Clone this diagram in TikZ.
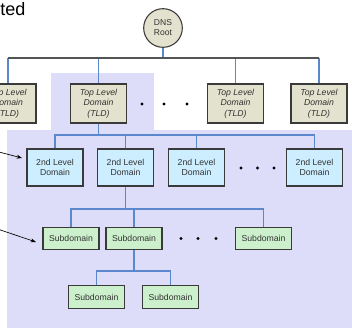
\documentclass[tikz,border=0pt]{standalone}
\usepackage{fontspec}
\usetikzlibrary{arrows.meta}
\setmainfont{Liberation Sans}
\definecolor{regionc}{HTML}{DDDDFA}
\definecolor{tldc}{HTML}{E2E2CE}
\definecolor{slc}{HTML}{CCEEFF}
\definecolor{subc}{HTML}{CCF0CC}
\definecolor{bluel}{HTML}{5B87CC}
\definecolor{greyl}{HTML}{555555}
\definecolor{edgec}{HTML}{3A3A3A}
\definecolor{txtc}{HTML}{333333}
\begin{document}
\begin{tikzpicture}[x=0.75pt,y=-0.75pt,
  boxbase/.style={draw=edgec,line width=0.8pt,inner sep=0pt,align=center,text=txtc,minimum width=42pt},
  tldbox/.style={boxbase,fill=tldc,minimum height=29.25pt,font=\fontsize{6.5}{7.9}\selectfont\itshape},
  slbox/.style={boxbase,fill=slc,minimum height=27.75pt,font=\fontsize{6.5}{7.7}\selectfont},
  subbox/.style={boxbase,fill=subc,minimum height=17pt,font=\fontsize{6.5}{7.7}\selectfont},
  rootnode/.style={circle,draw=edgec,line width=0.8pt,fill=tldc,minimum size=29pt,inner sep=0pt,align=center,text=txtc,font=\fontsize{6.4}{7.5}\selectfont},
  blueline/.style={draw=bluel,line width=0.9pt},
  greyline/.style={draw=greyl,line width=0.9pt},
  pointer/.style={draw=black,line width=0.5pt,-{Stealth[length=4pt,width=3pt]}},
  dotc/.style={circle,fill=black,inner sep=0pt,minimum size=2.6pt}]
\useasboundingbox (0,0) rectangle (352,329);
\clip (0,0) rectangle (352,329);
% highlighted regions
\fill[regionc] (7,130) rectangle (352,328);
\fill[regionc] (51,73) rectangle (154,131);
% title fragment
\node[anchor=base west,inner sep=0pt,font=\fontsize{13.5}{15}\selectfont] (title) at (0,15) {ted};
% root
\node[rootnode] (root) at (163,28) {DNS\\Root};
% TLDs
\node[tldbox] (tld1) at (8,103.5) {Top Level\\Domain\\(TLD)};
\node[tldbox] (tld2) at (98.5,103.5) {Top Level\\Domain\\(TLD)};
\node[tldbox] (tld3) at (235.5,103.5) {Top Level\\Domain\\(TLD)};
\node[tldbox] (tld4) at (319,103.5) {Top Level\\Domain\\(TLD)};
% second level
\node[slbox] (sl1) at (55,167.5) {2nd Level\\Domain};
\node[slbox] (sl2) at (125.5,167.5) {2nd Level\\Domain};
\node[slbox] (sl3) at (196.5,167.5) {2nd Level\\Domain};
\node[slbox] (sl4) at (314.5,167.5) {2nd Level\\Domain};
% subdomains
\node[subbox] (sd1) at (71,238.5) {Subdomain};
\node[subbox] (sd2) at (134,238.5) {Subdomain};
\node[subbox] (sd3) at (263.5,238.5) {Subdomain};
\node[subbox] (sd4) at (96.5,297) {Subdomain};
\node[subbox] (sd5) at (170.5,297) {Subdomain};
% bus coordinates
\coordinate (b0) at (163,58);
\coordinate (b1) at (98.5,135);
\coordinate (b2) at (125.5,209);
\coordinate (b3) at (134,271);
% root to TLDs
\draw[blueline] (root.south) -- (b0);
\draw[blueline] (tld1.north) -- (tld1.north |- b0);
\draw[blueline] (tld2.north) -- (tld2.north |- b0);
\draw[blueline] (tld3.north) -- (tld3.north |- b0);
\draw[blueline] (tld4.north) -- (tld4.north |- b0);
\draw[greyline] (tld1.north |- b0) -- (tld4.north |- b0);
% TLD2 to second level
\draw[blueline,line width=1.2pt] (tld2.south) -- (b1);
\draw[blueline] (sl1.north) |- (b1) -| (sl4.north);
\draw[blueline] (sl2.north) -- (sl2.north |- b1);
\draw[blueline] (sl3.north) -- (sl3.north |- b1);
% second level to subdomains
\draw[blueline,line width=1.2pt] (sl2.south) -- (b2);
\draw[blueline] (sd1.north) |- (b2) -| (sd3.north);
\draw[blueline] (sd2.north) -- (sd2.north |- b2);
% subdomain to subdomains
\draw[blueline,line width=1.2pt] (sd2.south) -- (b3);
\draw[blueline] (sd4.north) |- (b3) -| (sd5.north);
% dots
\node[dotc] (d1) at (142,104) {};
\node[dotc] (d2) at (164,104) {};
\node[dotc] (d3) at (187,104) {};
\node[dotc] (d4) at (241,168) {};
\node[dotc] (d5) at (257.5,168) {};
\node[dotc] (d6) at (274,168) {};
\node[dotc] (d7) at (181,238.5) {};
\node[dotc] (d8) at (198,238.5) {};
\node[dotc] (d9) at (216,238.5) {};
% pointers
\coordinate (p1) at (-1,152);
\coordinate (q1) at (22,158);
\coordinate (p2) at (-1,229.5);
\coordinate (q2) at (36,242);
\draw[pointer] (p1) -- (q1);
\draw[pointer] (p2) -- (q2);
\end{tikzpicture}
\end{document}
